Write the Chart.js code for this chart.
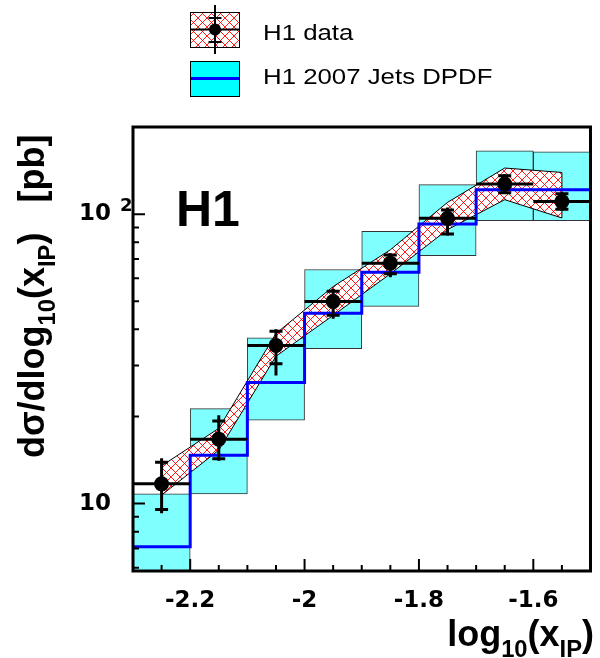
<!DOCTYPE html>
<html>
<head>
<meta charset="utf-8">
<script src="https://cdn.jsdelivr.net/npm/chart.js@4.4.1/dist/chart.umd.min.js"></script>
<style>
  body { margin: 0; background: #fff; }
  canvas { display: block; }
</style>
</head>
<body>
<canvas id="c" width="600" height="658"></canvas>
<script>
// bins in log10(x_IP)
const binEdges = [-2.3, -2.2, -2.1, -2.0, -1.9, -1.8, -1.7, -1.6, -1.5];
const binCenters = [-2.25, -2.15, -2.05, -1.95, -1.85, -1.75, -1.65, -1.55];

// H1 data [pb], with stat (ticks) and total errors
const h1Data = [11.7, 16.7, 35.2, 49.9, 67.7, 96.7, 127, 110.5];
const statHi = [13.9, 19.3, 39.4, 54.2, 72.3, 103.4, 135.8, 117.7];
const statLo = [9.55, 14.3, 30.4, 44.7, 62.2, 85.4, 118.6, 104];
const totHi = [14.35, 20.2, 40.0, 55.1, 73.2, 105.5, 137.6, 118.9];
const totLo = [9.27, 14.05, 27.7, 43.5, 60.5, 84.3, 117.4, 102.8];

// hatched band
const bandHi = [13.5, 18.2, 38.7, 56.2, 75.3, 109.8, 144.3, 139.3];
const bandLo = [10.7, 15.3, 32.3, 44.7, 62.2, 88.4, 112.2, 97];

// H1 2007 Jets DPDF
const dpdf = [7.1, 14.7, 26.2, 45.5, 63.0, 92.5, 121.5, 121.5];
const dpdfHi = [10.8, 21.3, 37.4, 64.4, 87.2, 126.4, 165.6, 164.3];
const dpdfLo = [4.5, 10.8, 19.4, 34.3, 48.0, 71.9, 95.0, 95.0];

// axis ticks
const xLabelTicks = [-2.2, -2.0, -1.8, -1.6];
const xTicks = [-2.25, -2.2, -2.15, -2.1, -2.05, -2.0, -1.95, -1.9, -1.85, -1.8, -1.75, -1.7, -1.65, -1.6, -1.55];
const yLabelTicks = [10, 100];
const yTicks = [6, 7, 8, 9, 10, 20, 30, 40, 50, 60, 70, 80, 90, 100];

const SANS = "'Liberation Sans', Arial, sans-serif";
const TICKFONT = { family: "'DejaVu Sans', sans-serif", weight: 'bold', size: 23 };

function hatch() {
  const n = 9;
  const c = document.createElement('canvas');
  c.width = n; c.height = n;
  const g = c.getContext('2d');
  g.fillStyle = '#fff';
  g.fillRect(0, 0, n, n);
  g.strokeStyle = '#ff0000';
  g.lineWidth = 0.9;
  g.beginPath();
  g.moveTo(-n, -n); g.lineTo(2 * n, 2 * n);
  g.moveTo(2 * n, -n); g.lineTo(-n, 2 * n);
  g.stroke();
  return g.createPattern(c, 'repeat');
}
const hatchFill = hatch();

// text with subscripts, returns end x
function drawParts(ctx, parts, x, y, size, measureOnly) {
  parts.forEach(p => {
    const s = p.sub ? size * 0.66 : size;
    ctx.font = 'bold ' + s + 'px ' + SANS;
    if (!measureOnly) ctx.fillText(p.t, x, y + (p.sub ? size * 0.3 : 0));
    x += ctx.measureText(p.t).width;
  });
  return x;
}

const xTitle = [{ t: 'log' }, { t: '10', sub: true }, { t: '(x' }, { t: 'IP', sub: true }, { t: ')' }];
const yTitle = [{ t: 'dσ/dlog' }, { t: '10', sub: true }, { t: '(x' }, { t: 'IP', sub: true }, { t: ')   [pb]' }];

const decor = {
  id: 'decor',
  afterDraw(chart) {
    const { ctx, chartArea: a, scales: { x, y } } = chart;
    ctx.save();
    ctx.strokeStyle = '#000';
    ctx.fillStyle = '#000';

    // inward ticks
    ctx.lineWidth = 2;
    ctx.beginPath();
    xTicks.forEach(v => {
      const px = x.getPixelForValue(v);
      const len = xLabelTicks.includes(v) ? 12 : 6;
      ctx.moveTo(px, a.bottom);
      ctx.lineTo(px, a.bottom - len);
    });
    yTicks.forEach(v => {
      const py = y.getPixelForValue(v);
      const len = yLabelTicks.includes(v) ? 12 : 6;
      ctx.moveTo(a.left, py);
      ctx.lineTo(a.left + len, py);
    });
    ctx.stroke();

    // frame
    ctx.lineWidth = 3;
    ctx.strokeRect(a.left, a.top, a.right - a.left, a.bottom - a.top);

    // exponent of 10^2
    ctx.font = 'bold 18px ' + TICKFONT.family;
    ctx.textAlign = 'left';
    ctx.textBaseline = 'alphabetic';
    ctx.fillText('2', 120, y.getPixelForValue(100) - 3);

    // H1 label
    ctx.font = 'bold 50px ' + SANS;
    ctx.fillText('H1', 176, 226);

    // x title, right aligned
    const w = drawParts(ctx, xTitle, 0, 0, 36, true);
    drawParts(ctx, xTitle, 594 - w, 646, 36);

    // y title, rotated
    ctx.save();
    ctx.translate(44, 458);
    ctx.rotate(-Math.PI / 2);
    drawParts(ctx, yTitle, 0, 0, 36);
    ctx.restore();

    // legend: H1 data
    ctx.lineWidth = 1;
    ctx.fillStyle = hatchFill;
    ctx.fillRect(190, 12, 49, 35);
    ctx.strokeRect(190.5, 12.5, 49, 35);
    ctx.fillStyle = '#000';
    ctx.lineWidth = 2;
    ctx.beginPath();
    ctx.moveTo(190, 29.5); ctx.lineTo(239, 29.5);
    ctx.moveTo(215, 5); ctx.lineTo(215, 54);
    ctx.moveTo(208.5, 18); ctx.lineTo(221.5, 18);
    ctx.moveTo(208.5, 42); ctx.lineTo(221.5, 42);
    ctx.stroke();
    ctx.beginPath();
    ctx.arc(215, 29.5, 6, 0, Math.PI * 2);
    ctx.fill();

    // legend: DPDF
    ctx.fillStyle = '#00ffff';
    ctx.fillRect(190, 61, 49, 35);
    ctx.lineWidth = 1;
    ctx.strokeRect(190.5, 61.5, 49, 35);
    ctx.strokeStyle = '#0000ff';
    ctx.lineWidth = 3;
    ctx.beginPath();
    ctx.moveTo(191, 78.5); ctx.lineTo(239, 78.5);
    ctx.stroke();

    ctx.fillStyle = '#000';
    ctx.font = '21.5px ' + SANS;
    [['H1 data', 39.5], ['H1 2007 Jets DPDF', 83.5]].forEach(([t, by]) => {
      ctx.save();
      ctx.translate(263, by);
      ctx.scale(1.2, 1);
      ctx.fillText(t, 0, 0);
      ctx.restore();
    });
    ctx.restore();
  }
};

const xBars = [];
const yBars = [];
const statTicks = [];
binCenters.forEach((c, i) => {
  xBars.push({ x: binEdges[i], y: h1Data[i] }, { x: binEdges[i + 1], y: h1Data[i] }, { x: c, y: null });
  yBars.push({ x: c, y: totLo[i] }, { x: c, y: totHi[i] }, { x: c, y: null });
  statTicks.push({ x: c, y: statHi[i] }, { x: c, y: statLo[i] });
});
const last = binCenters.length - 1;

new Chart(document.getElementById('c'), {
  type: 'bar',
  data: {
    datasets: [
      {
        type: 'bar',
        data: binCenters.map((x, i) => ({ x, y: [dpdfLo[i], dpdfHi[i]] })),
        backgroundColor: '#80ffff',
        borderColor: '#333',
        borderWidth: 1,
        borderSkipped: false,
        barPercentage: 1,
        categoryPercentage: 1,
        order: 10
      },
      {
        type: 'line',
        data: binCenters.map((x, i) => ({ x, y: bandHi[i] })),
        borderColor: '#000',
        borderWidth: 1,
        pointRadius: 0,
        fill: '+1',
        backgroundColor: hatchFill,
        order: 8
      },
      {
        type: 'line',
        data: binCenters.map((x, i) => ({ x, y: bandLo[i] })),
        borderColor: '#000',
        borderWidth: 1,
        pointRadius: 0,
        fill: false,
        order: 7
      },
      {
        type: 'line',
        data: [
          { x: binCenters[0], y: bandLo[0] }, { x: binCenters[0], y: bandHi[0] }, { x: binCenters[0], y: null },
          { x: binCenters[last], y: bandLo[last] }, { x: binCenters[last], y: bandHi[last] }
        ],
        borderColor: '#000',
        borderWidth: 1,
        pointRadius: 0,
        order: 7
      },
      {
        type: 'line',
        data: binEdges.map((x, i) => ({ x, y: dpdf[Math.min(i, last)] })),
        stepped: 'before',
        borderColor: '#0000ff',
        borderWidth: 3,
        pointRadius: 0,
        order: 5
      },
      {
        type: 'line',
        data: xBars,
        borderColor: '#000',
        borderWidth: 3,
        pointRadius: 0,
        order: 3
      },
      {
        type: 'line',
        data: yBars,
        borderColor: '#000',
        borderWidth: 3,
        pointRadius: 0,
        order: 3
      },
      {
        type: 'scatter',
        data: statTicks,
        pointStyle: 'line',
        radius: 6.5,
        borderColor: '#000',
        borderWidth: 3,
        order: 2
      },
      {
        type: 'scatter',
        data: binCenters.map((x, i) => ({ x, y: h1Data[i] })),
        pointStyle: 'circle',
        radius: 7.5,
        backgroundColor: '#000',
        borderWidth: 0,
        order: 1
      }
    ]
  },
  options: {
    responsive: false,
    animation: false,
    layout: { padding: { top: 127, right: 5, left: 0, bottom: 0 } },
    plugins: { legend: { display: false }, tooltip: { enabled: false } },
    scales: {
      x: {
        type: 'linear',
        min: -2.3,
        max: -1.5,
        offset: false,
        grid: { display: false, offset: false },
        border: { display: false },
        afterBuildTicks: s => { s.ticks = xLabelTicks.map(v => ({ value: v })); },
        afterFit: s => { s.height = 87; },
        ticks: {
          callback: v => String(v),
          font: TICKFONT,
          color: '#000',
          padding: 8,
          maxRotation: 0,
          autoSkip: false
        }
      },
      y: {
        type: 'logarithmic',
        min: 5.85,
        max: 200,
        grid: { display: false },
        border: { display: false },
        afterBuildTicks: s => { s.ticks = yLabelTicks.map(v => ({ value: v })); },
        afterFit: s => { s.width = 133; },
        ticks: {
          callback: () => '10',
          font: TICKFONT,
          color: '#000',
          padding: 14,
          autoSkip: false
        }
      }
    }
  },
  plugins: [decor]
});
</script>
</body>
</html>
